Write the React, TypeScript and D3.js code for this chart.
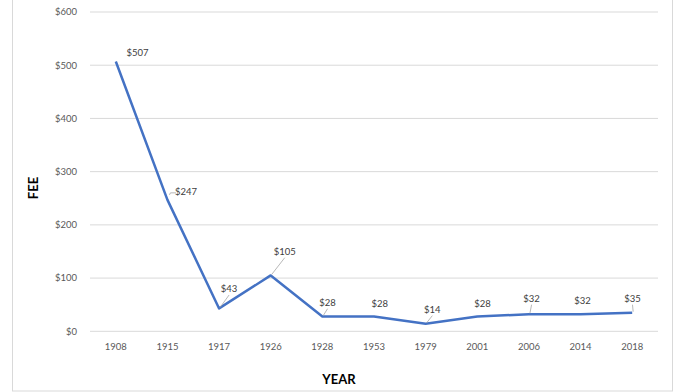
import React from "react";
import * as d3 from "d3";

const years = ["1908", "1915", "1917", "1926", "1928", "1953", "1979", "2001", "2006", "2014", "2018"];
const fees = [507, 247, 43, 105, 28, 28, 14, 28, 32, 32, 35];
const yTicks = [0, 100, 200, 300, 400, 500, 600];
// label offsets (dx, dy) relative to point, and whether a leader line is drawn
const labelDx = [21.7, 18.5, 10, 14, 5.2, 5.7, 6.7, 5.3, 2.7, 2, 0.3];
const labelDy = [-8.6, -8, -19.4, -23.7, -13.7, -13, -14.2, -12.4, -15.6, -13.3, -14];
const leader = [false, true, true, true, true, false, true, false, true, false, true];

const W = 675;
const H = 392;
const font = "Lato, 'Open Sans', sans-serif";

export default function App() {
  const x = d3.scaleBand().domain(years).range([90, 658]);
  const y = d3.scaleLinear().domain([0, 600]).range([331.3, 12]);
  const cx = (d: string) => (x(d) as number) + x.bandwidth() / 2;
  const line = d3
    .line<number>()
    .x((_, i) => cx(years[i]))
    .y((v) => y(v));

  return (
    <svg
      width={W}
      height={H}
      style={{ position: "absolute", left: 0, top: 0, background: "#fff" }}
      fontFamily={font}
    >
      <rect x={12.5} y={-5} width={660} height={396} fill="#fff" stroke="#d9d9d9" strokeWidth={1} />
      {yTicks.map((t) => (
        <g key={t}>
          <line x1={90} x2={658} y1={y(t)} y2={y(t)} stroke="#d9d9d9" strokeWidth={1} />
          <text x={77} y={y(t)} dy="0.35em" textAnchor="end" fontSize={9.5} fill="#595959">
            {d3.format("$,")(t)}
          </text>
        </g>
      ))}
      {years.map((yr) => (
        <text key={yr} x={cx(yr)} y={346.7} dy="0.35em" textAnchor="middle" fontSize={9.5} fill="#595959">
          {yr}
        </text>
      ))}
      <path d={line(fees) ?? ""} fill="none" stroke="#4472C4" strokeWidth={2.5} strokeLinejoin="round" />
      {fees.map((v, i) => {
        const px = cx(years[i]);
        const py = y(v);
        const lx = px + labelDx[i];
        const ly = py + labelDy[i];
        let leaderEl = null;
        if (leader[i]) {
          if (i === 1) {
            leaderEl = (
              <polyline
                points={`${px + 2},${py - 5} ${px + 3},${ly + 1} ${lx - 10},${ly + 1}`}
                fill="none"
                stroke="#a6a6a6"
                strokeWidth={0.8}
              />
            );
          } else {
            leaderEl = (
              <line x1={px + 1} y1={py - 1} x2={lx} y2={ly + 6} stroke="#a6a6a6" strokeWidth={0.8} />
            );
          }
        }
        return (
          <g key={i}>
            {leaderEl}
            <text
              x={lx}
              y={ly}
              dy="0.35em"
              textAnchor="middle"
              fontSize={9.5}
              fill="#404040"
            >
              {d3.format("$,")(v)}
            </text>
          </g>
        );
      })}
      <text
        transform={`translate(33,188) rotate(-90)`}
        textAnchor="middle"
        dy="0.35em"
        fontSize={13}
        fontWeight="bold"
        fill="#000"
      >
        FEE
      </text>
      <text x={339} y={379.3} dy="0.35em" textAnchor="middle" fontSize={13} fontWeight="bold" fill="#000">
        YEAR
      </text>
    </svg>
  );
}
